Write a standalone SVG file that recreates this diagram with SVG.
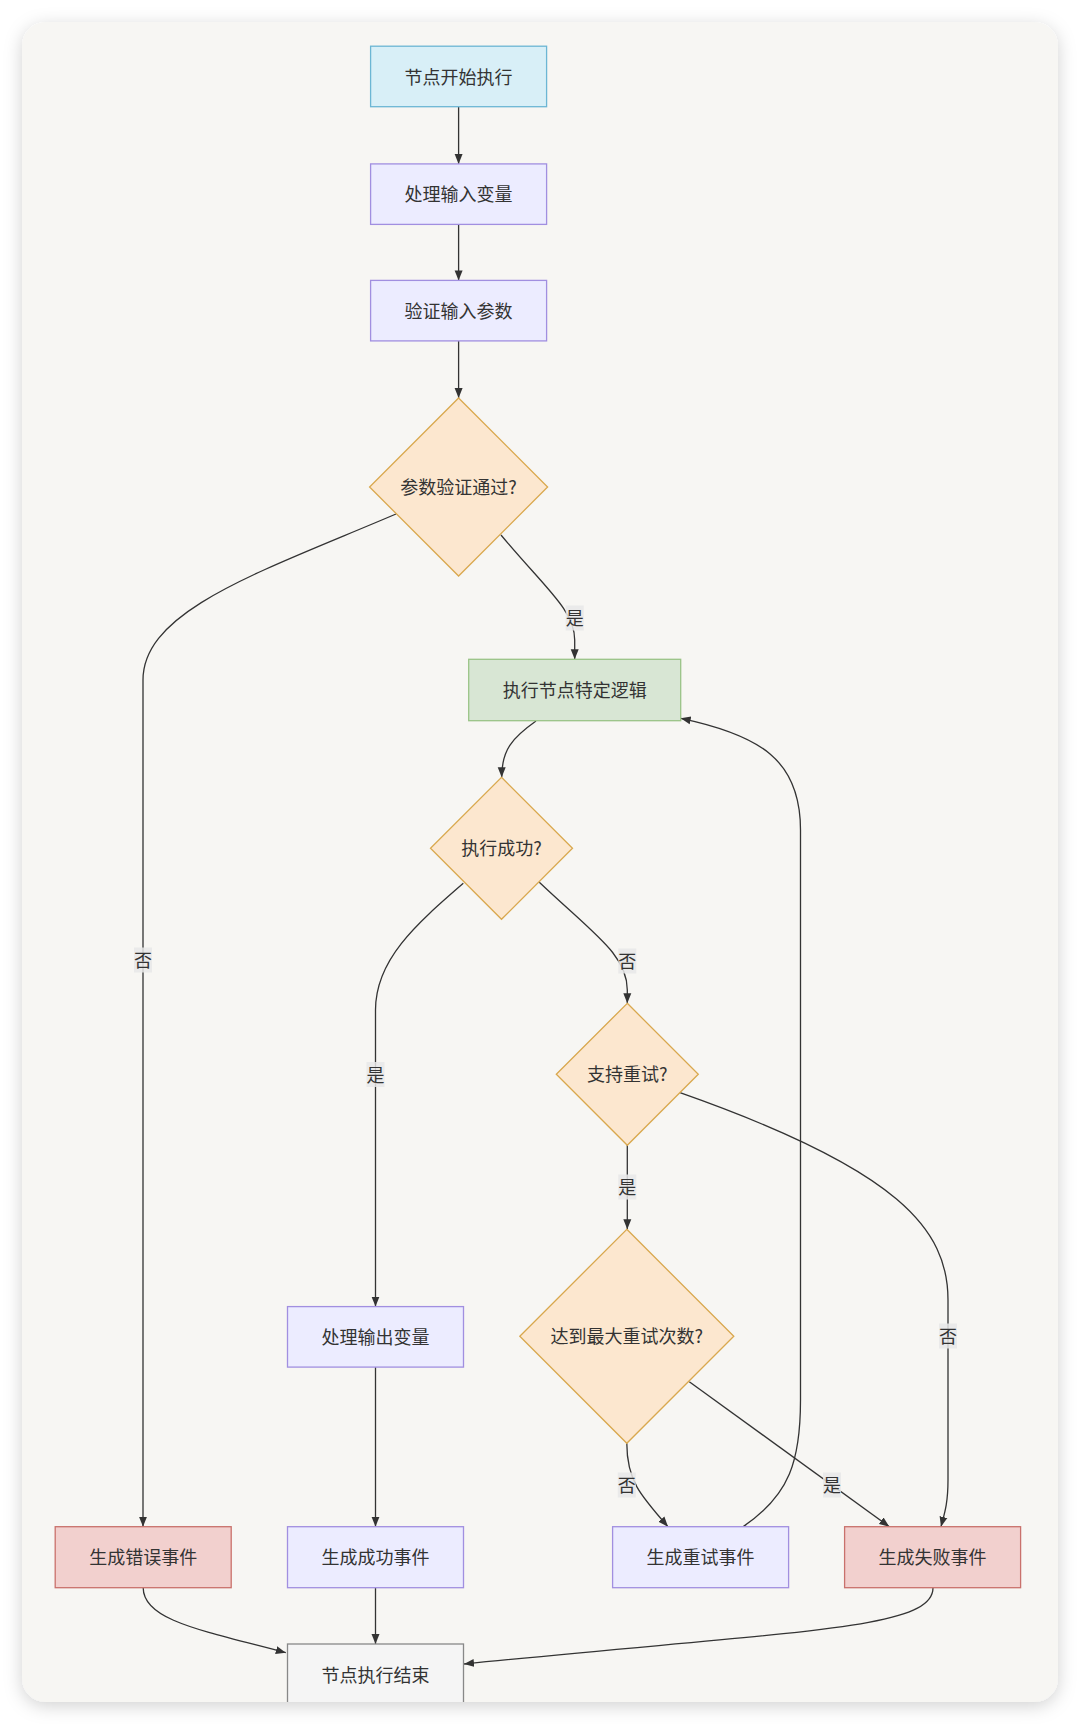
<svg xmlns="http://www.w3.org/2000/svg" width="1080" height="1724" viewBox="0 0 1080 1724">
<defs>
<filter id="shadow" x="-10%" y="-10%" width="120%" height="120%">
<feDropShadow dx="0" dy="4" stdDeviation="9" flood-color="#000" flood-opacity="0.18"/>
</filter>
<clipPath id="cardClip"><rect x="22" y="22" width="1036" height="1680" rx="24" ry="24"/></clipPath>
<marker id="arrow" viewBox="0 0 10 10" refX="10" refY="5" markerWidth="10" markerHeight="10" markerUnits="userSpaceOnUse" orient="auto">
<path d="M0,1 L10,5 L0,9 z" fill="#333"/>
</marker>
<style>
.lbl{font-family:"Noto Sans CJK SC","Noto Sans",sans-serif;font-size:18px;fill:#333;text-anchor:middle;dominant-baseline:central}
.edge{fill:none;stroke:#333;stroke-width:1.3}
.ebg{fill:#e8e8e8;opacity:0.85}
.start{fill:#d8eff7;stroke:#6cb6d4;stroke-width:1.3}
.proc{fill:#ececff;stroke:#a18fe0;stroke-width:1.3}
.dec{fill:#fce7cf;stroke:#d9a84e;stroke-width:1.3}
.green{fill:#d8e6d4;stroke:#9ac487;stroke-width:1.3}
.red{fill:#f2d0ce;stroke:#c9716c;stroke-width:1.3}
.endn{fill:#f5f5f5;stroke:#888;stroke-width:1.3}
</style>
</defs>
<rect width="1080" height="1724" fill="#ffffff"/>
<rect x="22" y="22" width="1036" height="1680" rx="24" ry="24" fill="#f7f6f3" filter="url(#shadow)"/>
<g clip-path="url(#cardClip)">
<g id="connectors">
<path class="edge" d="M458.6,106.7 L458.6,163.9" marker-end="url(#arrow)"/>
<path class="edge" d="M458.6,224.4 L458.6,280.4" marker-end="url(#arrow)"/>
<path class="edge" d="M458.6,340.9 L458.6,398" marker-end="url(#arrow)"/>
<path class="edge" d="M501,535 C545,588 574.7,610 574.7,640 L574.7,659.3" marker-end="url(#arrow)"/>
<path class="edge" d="M396,514 C260,572 143,610 143,680 L143,1526.7" marker-end="url(#arrow)"/>
<path class="edge" d="M536,721 C512,738 501.7,750 501.7,777.3" marker-end="url(#arrow)"/>
<path class="edge" d="M463.3,883.3 C415,925 375.5,960 375.5,1010 L375.5,1306.6" marker-end="url(#arrow)"/>
<path class="edge" d="M539.3,882.3 C595,935 627.3,955 627.3,990 L627.3,1003.3" marker-end="url(#arrow)"/>
<path class="edge" d="M627.3,1145 L627.3,1229.3" marker-end="url(#arrow)"/>
<path class="edge" d="M680,1092.7 C900,1170 948,1230 948,1300 L948,1480 C948,1505 944,1515 941,1526.7" marker-end="url(#arrow)"/>
<path class="edge" d="M626.8,1443.3 C626.8,1480 640,1495 668,1526.7" marker-end="url(#arrow)"/>
<path class="edge" d="M689.3,1381.7 L889.3,1526.7" marker-end="url(#arrow)"/>
<path class="edge" d="M743,1526.7 C790,1495 800.5,1460 800.5,1400 L800.5,830 C800.5,760 760,735 680.7,718.3" marker-end="url(#arrow)"/>
<path class="edge" d="M375.5,1367.1 L375.5,1526.7" marker-end="url(#arrow)"/>
<path class="edge" d="M143.2,1587.7 C143.2,1620 200,1630 285.8,1652.7" marker-end="url(#arrow)"/>
<path class="edge" d="M375.5,1587.7 L375.5,1644" marker-end="url(#arrow)"/>
<path class="edge" d="M933,1587.7 C933,1630 800,1630 464,1664" marker-end="url(#arrow)"/>
<rect class="ebg" x="565.7" y="605.5" width="18" height="25"/><text class="lbl" x="574.7" y="617">是</text>
<rect class="ebg" x="134" y="947.5" width="18" height="25"/><text class="lbl" x="143" y="959">否</text>
<rect class="ebg" x="366.5" y="1062" width="18" height="25"/><text class="lbl" x="375.5" y="1073.5">是</text>
<rect class="ebg" x="618.3" y="948.5" width="18" height="25"/><text class="lbl" x="627.3" y="960">否</text>
<rect class="ebg" x="618.3" y="1174.5" width="18" height="25"/><text class="lbl" x="627.3" y="1186">是</text>
<rect class="ebg" x="939" y="1323.5" width="18" height="25"/><text class="lbl" x="948" y="1335">否</text>
<rect class="ebg" x="617.8" y="1472.5" width="18" height="25"/><text class="lbl" x="626.8" y="1484">否</text>
<rect class="ebg" x="823" y="1472.5" width="18" height="25"/><text class="lbl" x="832" y="1484">是</text>
</g>
<g id="n_start"><rect class="start" x="370.6" y="46.2" width="176" height="60.5"/><text class="lbl" x="458.6" y="75.5">节点开始执行</text></g>
<g id="n_input"><rect class="proc" x="370.6" y="163.9" width="176" height="60.5"/><text class="lbl" x="458.6" y="193.2">处理输入变量</text></g>
<g id="n_validate"><rect class="proc" x="370.6" y="280.4" width="176" height="60.5"/><text class="lbl" x="458.6" y="309.7">验证输入参数</text></g>
<g id="n_valid_ok"><polygon class="dec" points="458.6,398 547.6,487 458.6,576 369.6,487"/><text class="lbl" x="458.6" y="486">参数验证通过?</text></g>
<g id="n_exec"><rect class="green" x="468.7" y="659.3" width="212" height="61.4"/><text class="lbl" x="574.7" y="689">执行节点特定逻辑</text></g>
<g id="n_exec_ok"><polygon class="dec" points="501.5,777.3 572.5,848.3 501.5,919.3 430.5,848.3"/><text class="lbl" x="501.5" y="847.3">执行成功?</text></g>
<g id="n_retry_ok"><polygon class="dec" points="627.3,1003.3 698.3,1074.3 627.3,1145.3 556.3,1074.3"/><text class="lbl" x="627.3" y="1073.3">支持重试?</text></g>
<g id="n_max"><polygon class="dec" points="626.8,1229.3 733.8,1336.3 626.8,1443.3 519.8,1336.3"/><text class="lbl" x="626.8" y="1335.3">达到最大重试次数?</text></g>
<g id="n_output"><rect class="proc" x="287.5" y="1306.6" width="176" height="60.5"/><text class="lbl" x="375.5" y="1335.9">处理输出变量</text></g>
<g id="n_err"><rect class="red" x="55.2" y="1526.7" width="176" height="61"/><text class="lbl" x="143.2" y="1556.2">生成错误事件</text></g>
<g id="n_succ"><rect class="proc" x="287.5" y="1526.7" width="176" height="61"/><text class="lbl" x="375.5" y="1556.2">生成成功事件</text></g>
<g id="n_retry"><rect class="proc" x="612.6" y="1526.7" width="176" height="61"/><text class="lbl" x="700.6" y="1556.2">生成重试事件</text></g>
<g id="n_fail"><rect class="red" x="844.6" y="1526.7" width="176" height="61"/><text class="lbl" x="932.6" y="1556.2">生成失败事件</text></g>
<g id="n_end"><rect class="endn" x="287.5" y="1644" width="176" height="61"/><text class="lbl" x="375.5" y="1674">节点执行结束</text></g>
</g>
</svg>
